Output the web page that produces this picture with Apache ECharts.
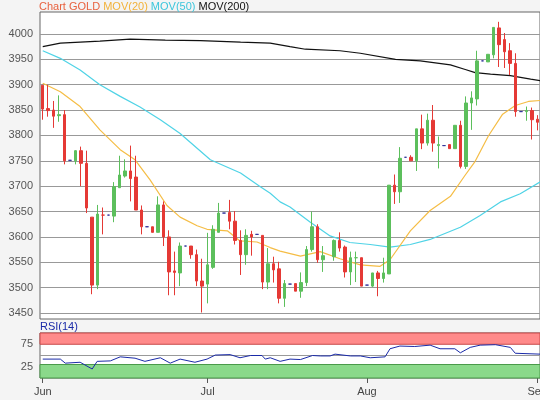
<!DOCTYPE html>
<html><head><meta charset="utf-8">
<script src="https://cdn.jsdelivr.net/npm/echarts@6/dist/echarts.min.js"></script>
<style>html,body{margin:0;padding:0;background:#f4f4f4}#c{width:540px;height:400px}</style>
</head><body><div id="c"></div>
<script>
// [open, close, low, high]; null = no bar
const candles = [
[3899,3852,3831,3899],[3853,3849,3837,3900],[3850,3838,3815,3868],[3839,3841,3827,3879],[3841,3750,3743,3850],
[3751,3751,3751,3751],[3750,3770,3743,3771],[3770,3745,3700,3778],[3745,3657,3647,3770],[3639,3505,3487,3639],
[3505,3645,3497,3663],[3643,3643,3605,3658],[3643,3643,3643,3643],[3641,3699,3629,3708],[3697,3722,3697,3760],
[3720,3730,3717,3753],[3730,3715,3670,3780],[3718,3653,3653,3760],[3653,3620,3605,3662],[3620,3620,3620,3620],
[3620,3609,3609,3620],[3609,3663,3609,3680],[3663,3600,3582,3670],[3600,3531,3485,3613],[3533,3530,3485,3571],
[3529,3582,3503,3589],[3582,3582,3582,3582],[3582,3565,3557,3582],[3565,3513,3503,3575],[3513,3503,3451,3557],
[3507,3545,3469,3608],[3540,3615,3537,3623],[3609,3647,3609,3667],[3647,3647,3647,3647],[3648,3631,3615,3673],
[3631,3593,3585,3651],[3593,3565,3525,3613],[3565,3603,3545,3615],[3605,3600,3563,3612],[3605,3605,3605,3605],
[3603,3511,3497,3603],[3511,3547,3497,3578],[3547,3535,3510,3561],[3537,3479,3469,3551],[3479,3508,3462,3515],
[3507,3507,3507,3507],[3508,3493,3493,3508],[3493,3510,3480,3530],[3510,3575,3503,3582],[3575,3620,3571,3650],
[3620,3555,3549,3625],[3555,3563,3531,3582],null,[3561,3593,3553,3595],[3593,3578,3571,3609],
[3580,3531,3520,3583],[3531,3559,3505,3571],[3559,3559,3511,3571],[3559,3503,3503,3559],[3505,3505,3505,3505],
[3503,3529,3501,3529],[3529,3518,3483,3533],[3518,3529,3510,3559],[3527,3702,3527,3702],[3702,3689,3665,3723],
[3689,3755,3667,3777],[3757,3757,3757,3757],[3757,3750,3750,3761],[3750,3813,3730,3813],[3813,3785,3773,3841],
[3785,3830,3780,3843],[3830,3785,3768,3860],[3780,3782,3735,3798],[3780,3780,3780,3780],[3782,3774,3774,3782],
[3774,3820,3774,3820],[3820,3739,3735,3829],[3739,3864,3734,3877],[3864,3874,3811,3887],[3872,3947,3859,3967],
[3947,3947,3947,3947],[3945,3960,3945,3960],[3959,4013,3952,4013],[4012,3979,3935,4024],[3989,3965,3933,4002],
[3967,3942,3919,3982],[3942,3847,3837,3962],[3847,3847,3847,3847],[3847,3849,3829,3857],[3849,3831,3792,3855],
[3832,3826,3810,3840]
];
const mov20 = [[0,3903],[3.2,3886],[6.8,3857],[10.4,3811],[14.1,3772],[16.8,3752],[19.5,3713],[22.6,3662],[25,3639],[28.1,3622],[29.9,3615],[33.6,3612],[35.9,3592],[39,3590],[41.4,3579],[43.2,3572],[46.9,3562],[50.5,3571],[54.1,3557],[57.8,3545],[61.4,3542],[63.2,3555],[66.9,3612],[70.5,3652],[74.2,3680],[76.9,3722],[78.7,3749],[81.1,3799],[83.7,3842],[86,3859],[88.4,3867],[90.6,3869]];
const mov50 = [[0,3967],[3.2,3952],[6.8,3929],[10.4,3900],[14.1,3877],[17.7,3856],[21.4,3831],[25,3804],[30.5,3752],[36,3726],[39.6,3699],[41.4,3686],[43.2,3669],[45,3659],[48.7,3629],[52.3,3602],[55.9,3589],[59.6,3585],[63.2,3580],[66.9,3585],[70.5,3595],[76,3619],[79.6,3642],[83.3,3669],[86.9,3685],[90.6,3709]];
const mov200 = [[0,3975],[3.2,3982],[6.8,3984],[10.4,3986],[15.9,3990],[22.3,3988],[28.7,3987],[36,3984],[41.4,3982],[45,3975],[47.8,3970],[54.1,3967],[57.8,3962],[64.2,3950],[68.7,3947],[74.2,3939],[76.9,3930],[78.7,3924],[81.5,3921],[85.1,3918],[88.8,3911],[90.6,3908]];
const rsi = [[0,42],[3.2,42],[4.1,33],[6.8,35],[9,20],[9.9,37],[12.3,38],[14.1,47],[16.8,44],[18.6,37],[21.4,45],[23.2,33],[25,42],[27.7,35],[29.9,42],[31.4,51],[34.1,52],[35.9,45],[37.8,50],[39.9,50],[40.5,42],[41.4,45],[43.2,37],[45,42],[46.9,41],[49.1,50],[50.5,49],[52.3,49],[53.2,53],[56,49],[57.8,49],[59.6,45],[62.3,47],[63.2,65],[65,71],[67.7,70],[70.5,73],[72.3,65],[75,65],[76,56],[77.8,68],[79.6,73],[82.4,74],[85.1,68],[86,55],[90.6,53]];
const monthTicks = {0:'Jun',30:'Jul',59:'Aug',90:'Sep'};

const cats = candles.map((_, i) => String(i));
const dojiColor = '#33339a';
const candleData = candles.map(c => {
  if (!c) return '-';
  if (c[0] === c[1]) {
    const col = (c[2] === c[3]) ? dojiColor : (c[1] >= 3550 && c[1] <= 3560 ? '#5cbf5c' : '#e53935');
    return {value: c, itemStyle: {color: dojiColor, color0: dojiColor, borderColor: col, borderColor0: col, borderColorDoji: col}};
  }
  return c;
});

const chart = echarts.init(document.getElementById('c'), null, {renderer: 'canvas'});
const L = 40, R = 0;
const FONT = 'Liberation Sans, Arial, sans-serif';
chart.setOption({
  backgroundColor: '#f4f4f4',
  animation: false,
  textStyle: {fontFamily: FONT},
  title: [
    {left: 39, top: 1, padding: 0, text: '{a|Chart GOLD }{b|MOV(20) }{c|MOV(50) }{d|MOV(200)}',
      textStyle: {fontSize: 11, fontWeight: 'normal', fontFamily: FONT, rich: {
        a: {color: '#e8623f', fontSize: 11, fontFamily: FONT}, b: {color: '#f2b23a', fontSize: 11, fontFamily: FONT},
        c: {color: '#3cc6dc', fontSize: 11, fontFamily: FONT}, d: {color: '#111', fontSize: 11, fontFamily: FONT}}}},
    {left: 40, top: 321, padding: 0, text: 'RSI(14)', textStyle: {fontSize: 11, fontWeight: 'normal', color: '#1a2aa8', fontFamily: FONT}}
  ],
  grid: [
    {left: L, right: R, top: 34, bottom: 87, outerBoundsMode: 'none', containLabel: false},
    {left: L, right: R, top: 12, bottom: 81, show: true, backgroundColor: '#fff', borderColor: '#666', borderWidth: 1, z: 0, outerBoundsMode: 'none', containLabel: false},
    {left: L, right: R, top: 333, height: 45, show: true, backgroundColor: '#fff', borderColor: '#666', borderWidth: 1, outerBoundsMode: 'none', containLabel: false}
  ],
  xAxis: [
    {type: 'category', gridIndex: 0, data: cats, show: false},
    {type: 'value', gridIndex: 0, min: -0.5, max: 90.5, show: false},
    {type: 'value', gridIndex: 1, show: false},
    {type: 'category', gridIndex: 2, data: cats, boundaryGap: true,
      axisLine: {show: false},
      axisTick: {show: true, alignWithLabel: true, length: 5, lineStyle: {color: '#555'}, interval: (i) => monthTicks[i] !== undefined},
      axisLabel: {color: '#444', fontSize: 11, margin: 8, hideOverlap: false, interval: (i) => monthTicks[i] !== undefined, formatter: (v, i) => monthTicks[i] || ''}},
    {type: 'value', gridIndex: 2, min: -0.5, max: 90.5, show: false}
  ],
  yAxis: [
    {type: 'value', gridIndex: 0, min: 3450, max: 4000, interval: 50,
      axisLine: {show: false}, axisTick: {show: false},
      axisLabel: {color: '#555', fontSize: 11, margin: 7, formatter: v => String(v)},
      splitLine: {lineStyle: {color: '#999', width: 1}}},
    {type: 'value', gridIndex: 1, show: false},
    {type: 'value', gridIndex: 2, min: 0, max: 100, interval: 25,
      axisLine: {show: false}, axisTick: {show: false},
      axisLabel: {color: '#555', fontSize: 11, margin: 7, formatter: v => (v === 25 || v === 75) ? String(v) : ''},
      splitLine: {show: false}}
  ],
  series: [
    {type: 'candlestick', xAxisIndex: 0, yAxisIndex: 0, data: candleData, clip: false, barWidth: 3, z: 5,
      itemStyle: {color: '#5cbf5c', color0: '#e53935', borderColor: '#5cbf5c', borderColor0: '#e53935', borderWidth: 1}},
    {type: 'line', xAxisIndex: 1, yAxisIndex: 0, data: mov200, showSymbol: false, clip: false, z: 4, lineStyle: {color: '#111', width: 1.2}},
    {type: 'line', xAxisIndex: 1, yAxisIndex: 0, data: mov50, showSymbol: false, clip: false, z: 4, lineStyle: {color: '#4fd3e6', width: 1.2}},
    {type: 'line', xAxisIndex: 1, yAxisIndex: 0, data: mov20, showSymbol: false, clip: false, z: 4, lineStyle: {color: '#f5bd45', width: 1.2}},
    {type: 'line', xAxisIndex: 4, yAxisIndex: 2, data: rsi, showSymbol: false, z: 5, lineStyle: {color: '#1a2aa8', width: 1},
      markArea: {silent: true, data: [
        [{yAxis: 75, itemStyle: {color: '#ff8a8a', borderColor: '#c84848', borderWidth: 1}}, {yAxis: 100}],
        [{yAxis: 0, itemStyle: {color: '#8ad98a', borderColor: '#4a9a4a', borderWidth: 1}}, {yAxis: 30}]
      ]},
      markLine: {silent: true, symbol: 'none', label: {show: false}, lineStyle: {color: '#999', type: 'solid', width: 1}, data: [{yAxis: 50}]}}
  ]
});
</script></body></html>
